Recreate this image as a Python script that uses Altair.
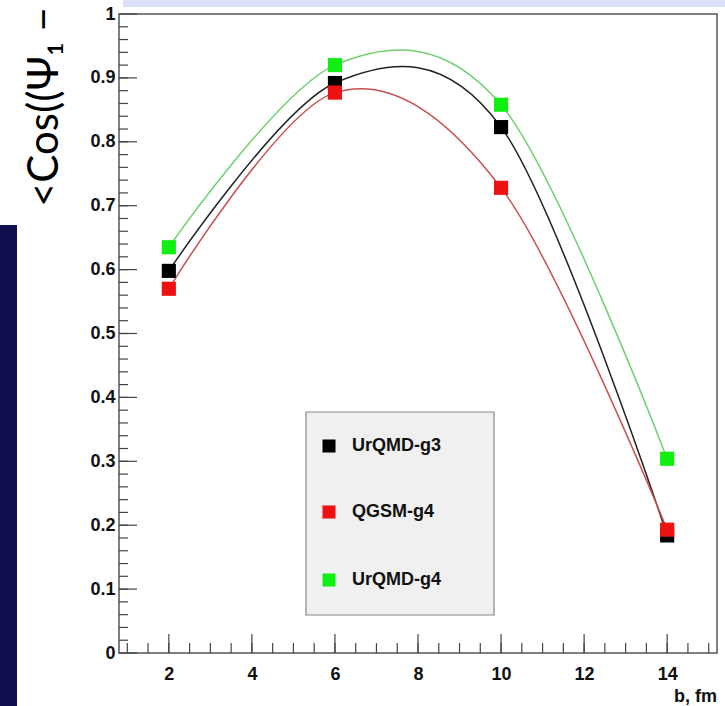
import altair as alt
import pandas as pd

# ---- data ----
b_fm = [2, 6, 10, 14]
urqmd_g3 = [0.598, 0.892, 0.823, 0.184]
qgsm_g4 = [0.570, 0.877, 0.728, 0.193]
urqmd_g4 = [0.635, 0.920, 0.858, 0.304]
series_names = ["UrQMD-g3", "QGSM-g4", "UrQMD-g4"]

x_label_values = [2, 4, 6, 8, 10, 12, 14]
y_label_values = [0, 0.1, 0.2, 0.3, 0.4, 0.5, 0.6, 0.7, 0.8, 0.9, 1.0]
x_minor_values = [round(1 + 0.5 * i, 2) for i in range(29)]
y_minor_values = [round(0.02 * i, 2) for i in range(1, 50)]

W, H = 598, 639
FONT = "Liberation Sans"

xs = alt.Scale(domain=[0.8, 15.2], nice=False, zero=False)
ys = alt.Scale(domain=[0, 1], nice=False, zero=False)

X_AX = alt.Axis(values=x_label_values, ticks=False, domain=False, grid=False,
                labelFont=FONT, labelFontWeight="bold", labelFontSize=18,
                labelColor="#111", labelPadding=12, title=None, labelFlush=False)
Y_AX = alt.Axis(values=y_label_values, ticks=False, domain=False, grid=False,
                format=".1~f", labelFont=FONT, labelFontWeight="bold",
                labelFontSize=18, labelColor="#111", labelPadding=4,
                title=None, labelFlush=False)


def xenc(field):
    return alt.X(field, type="quantitative", scale=xs, axis=X_AX, title=None)


def yenc(field):
    return alt.Y(field, type="quantitative", scale=ys, axis=Y_AX, title=None)


one = alt.Data(values=[{"k": 0}])

# decorations around the crop
band = alt.Chart(one).mark_rect(color="#dde1f7").encode(
    x=alt.value(4), x2=alt.value(640), y=alt.value(-14), y2=alt.value(-7))
navy = alt.Chart(one).mark_rect(color="#0f0f4f").encode(
    x=alt.value(-119), x2=alt.value(-102), y=alt.value(211), y2=alt.value(700))
big_text = alt.Chart(one).mark_text(
    angle=270, align="left", baseline="alphabetic", font="Lato",
    fontSize=42, color="#000").encode(
    x=alt.value(-61), y=alt.value(193), text=alt.value("<Cos((\u03a8\u2081 \u2212"))

# ticks drawn inward
xminor_df = pd.DataFrame({"v": x_minor_values})
xmajor_df = pd.DataFrame({"v": x_label_values})
yminor_df = pd.DataFrame({"v": y_minor_values})
ymajor_df = pd.DataFrame({"v": y_label_values})

tick_color = "#444"
xminor = alt.Chart(xminor_df).mark_rule(color=tick_color, strokeWidth=1.2).encode(
    x=xenc("v"), y=alt.value(H), y2=alt.value(H - 10))
xmajor = alt.Chart(xmajor_df).mark_rule(color=tick_color, strokeWidth=1.2).encode(
    x=xenc("v"), y=alt.value(H), y2=alt.value(H - 19))
yminor = alt.Chart(yminor_df).mark_rule(color=tick_color, strokeWidth=1.2).encode(
    y=yenc("v"), x=alt.value(0), x2=alt.value(9))
ymajor = alt.Chart(ymajor_df).mark_rule(color=tick_color, strokeWidth=1.2).encode(
    y=yenc("v"), x=alt.value(0), x2=alt.value(18))

# legend box
leg_box = alt.Chart(one).mark_rect(color="#f0f0f0", stroke="#888", strokeWidth=1.2).encode(
    x=alt.value(187), x2=alt.value(375), y=alt.value(398), y2=alt.value(601))

series_vals = [urqmd_g3, qgsm_g4, urqmd_g4]
line_colors = ["#222222", "#c85050", "#70d070"]
point_colors = ["#000000", "#ee1111", "#11ee11"]
leg_y = [432, 498, 566]

lines = []
points = []
legend_items = []
for name, vals, lc, pc, ly in zip(series_names, series_vals, line_colors, point_colors, leg_y):
    df = pd.DataFrame({"b": b_fm, "v": vals, "s": name})
    lines.append(alt.Chart(df).mark_line(color=lc, strokeWidth=1.5,
                                         interpolate="cardinal", tension=0).encode(
        x=xenc("b"), y=yenc("v")))
    points.append(alt.Chart(df).mark_square(color=pc, size=200, opacity=1).encode(
        x=xenc("b"), y=yenc("v")))
    ldata = alt.Data(values=[{"label": name}])
    legend_items.append(alt.Chart(ldata).mark_square(color=pc, size=170, opacity=1).encode(
        x=alt.value(210), y=alt.value(ly)))
    legend_items.append(alt.Chart(ldata).mark_text(
        align="left", baseline="middle", font=FONT, fontWeight="bold",
        fontSize=18, color="#111").encode(
        x=alt.value(233), y=alt.value(ly), text="label:N"))

xtitle = alt.Chart(one).mark_text(
    align="right", baseline="middle", font=FONT, fontWeight="bold",
    fontSize=18, color="#111").encode(
    x=alt.value(W), y=alt.value(683), text=alt.value("b, fm"))

chart = alt.layer(
    band, navy, big_text, xminor, xmajor, yminor, ymajor, leg_box,
    *lines, *points, *legend_items, xtitle
).properties(
    width=W, height=H,
    autosize=alt.AutoSizeParams(type="none"),
    padding={"left": 119, "top": 14, "right": 8, "bottom": 53},
    background="white",
).configure_view(stroke="#555", strokeWidth=1.5)

chart.save("out.html", embed_options={"renderer": "svg", "actions": False})
